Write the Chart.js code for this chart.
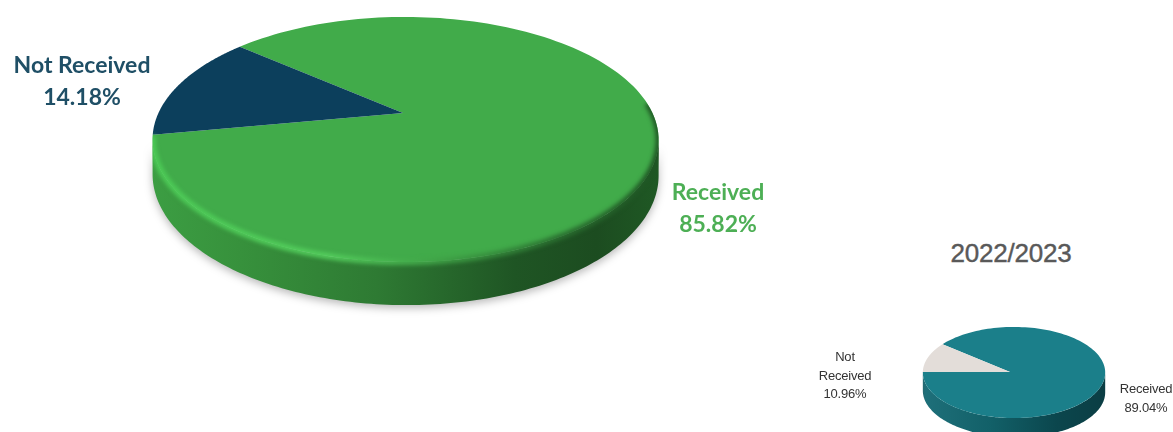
<!DOCTYPE html>
<html>
<head>
<meta charset="utf-8">
<title>Received vs Not Received</title>
<script src="https://cdn.jsdelivr.net/npm/chart.js@4"></script>
<style>
  html, body { margin: 0; padding: 0; background: #fff; width: 1173px; height: 432px; overflow: hidden; }
  canvas { position: absolute; }
  .lbl { position: absolute; transform: translateX(-50%); text-align: center; white-space: nowrap; }
  .big { font: bold 23px/32px Lato, sans-serif; }
  .small { font: 13px/18.5px "Liberation Sans", sans-serif; color: #333; letter-spacing: -0.2px; }
  .year { font: 26px "Liberation Sans", sans-serif; color: #595959; letter-spacing: -0.2px; -webkit-text-stroke: 0.4px #595959; }
</style>
</head>
<body>
<div style="position:absolute;left:0;top:-134px;width:806px;height:494px"><canvas id="mainPie"></canvas></div>
<div style="position:absolute;left:847px;top:281px;width:326px;height:182px"><canvas id="priorPie"></canvas></div>

<script>
// ============================
// DATA
// ============================
const categories = ["Received", "Not Received"];
const mainShares = [85.82, 14.18];
const priorShares = [89.04, 10.96];
const priorYear = "2022/2023";

// ============================
// TILTED PIE PLUGIN
// ============================
// Takes the slice angles the doughnut controller computed and projects them
// onto a disc seen in perspective, with a rim below it.
const tiltedPie = {
  id: "tiltedPie",
  beforeDatasetDraw(chart, args, opts) {
    const ctx = chart.ctx;
    const arcs = chart.getDatasetMeta(0).data;
    const cx = arcs[0].x;
    const cy = arcs[0].y;
    const R = arcs[0].outerRadius;

    // point on the disc edge for canvas angle t, pushed down by "drop"
    const edge = (t, drop) => {
      const w = 1 - opts.persp * Math.sin(t) - opts.yaw * Math.cos(t);
      return [
        cx + (R * Math.cos(t)) / w,
        cy + (R * opts.tilt * Math.sin(t)) / w + (drop || 0) / w,
      ];
    };
    const trace = (from, to, drop) => {
      const steps = 160;
      for (let i = 0; i <= steps; i++) {
        const p = edge(from + ((to - from) * i) / steps, drop);
        ctx.lineTo(p[0], p[1]);
      }
    };
    const hGradient = (stops) => {
      const g = ctx.createLinearGradient(cx - R * 1.03, 0, cx + R * 1.03, 0);
      stops.forEach((s) => g.addColorStop(s[0], s[1]));
      return g;
    };

    // visible part of the rim runs between the two widest points
    const side = Math.asin(opts.persp);
    const rimFrom = side;
    const rimTo = Math.PI - side;
    const rimPath = () => {
      trace(rimFrom, rimTo, 0);
      trace(rimTo, rimFrom, opts.depth);
      ctx.closePath();
    };

    ctx.save();
    ctx.shadowColor = "rgba(0,0,0,0.28)";
    ctx.shadowBlur = opts.shadow;
    ctx.shadowOffsetY = opts.shadow / 3;
    ctx.fillStyle = hGradient(opts.rimStops);
    ctx.beginPath();
    rimPath();
    ctx.fill();
    ctx.restore();

    arcs.forEach((arc) => {
      ctx.beginPath();
      ctx.moveTo(cx, cy);
      trace(arc.startAngle, arc.endAngle, 0);
      ctx.closePath();
      ctx.fillStyle = arc.options.backgroundColor;
      ctx.fill();
    });

    // soft bevel along the front of the disc, kept inside the silhouette
    if (opts.bevelStops) {
      ctx.save();
      ctx.beginPath();
      trace(0, Math.PI * 2, 0);
      ctx.closePath();
      const start = edge(rimFrom, 0);
      ctx.moveTo(start[0], start[1]);
      rimPath();
      ctx.clip();
      ctx.filter = "blur(" + opts.bevelBlur + "px)";
      ctx.strokeStyle = hGradient(opts.bevelStops);
      ctx.lineWidth = opts.bevelWidth;
      ctx.beginPath();
      trace(rimFrom - 0.3, rimTo + 0.03, 0);
      ctx.stroke();
      ctx.restore();
    }
    return false;
  },
};

// ============================
// CHART BUILDER
// ============================
function buildPie(id, shares, colors, rotation, pieOptions) {
  return new Chart(document.getElementById(id), {
    type: "pie",
    data: {
      labels: categories,
      datasets: [{ data: shares, backgroundColor: colors, borderWidth: 0 }],
    },
    options: {
      responsive: true,
      maintainAspectRatio: false,
      animation: false,
      rotation: rotation,
      layout: { padding: 0 },
      plugins: {
        legend: { display: false },
        tooltip: { enabled: false },
        tiltedPie: pieOptions,
      },
    },
    plugins: [tiltedPie],
  });
}

buildPie("mainPie", mainShares, ["#41AB4A", "#0C3F5C"], 310.6, {
  tilt: 0.473,
  persp: 0.2163,
  yaw: 0.01,
  depth: 33.7,
  shadow: 9,
  rimStops: [
    [0, "#3C9E43"],
    [0.18, "#37913C"],
    [0.45, "#2E7A33"],
    [0.72, "#1F5524"],
    [0.88, "#1C4C20"],
    [1, "#1F5824"],
  ],
  bevelStops: [
    [0, "#4CCB56"],
    [0.35, "#54CE5D"],
    [0.58, "#3E9F45"],
    [0.8, "#2A6F30"],
    [1, "#1F5524"],
  ],
  bevelWidth: 6,
  bevelBlur: 2.2,
});

buildPie("priorPie", priorShares, ["#1B7F8A", "#E3DDD9"], 309.5, {
  tilt: 0.5,
  persp: 0.011,
  yaw: 0.044,
  depth: 19,
  shadow: 0,
  rimStops: [
    [0, "#3A575B"],
    [0.05, "#1E6F79"],
    [0.4, "#126068"],
    [0.75, "#0B464D"],
    [1, "#0B3E44"],
  ],
});

// ============================
// TEXT LABELS
// ============================
function addLabel(cls, lines, x, y, color) {
  const el = document.createElement("div");
  el.className = "lbl " + cls;
  el.style.left = x + "px";
  el.style.top = y + "px";
  if (color) el.style.color = color;
  lines.forEach((line) => {
    const row = document.createElement("div");
    row.textContent = line;
    el.appendChild(row);
  });
  document.body.appendChild(el);
}

const pct = (v) => v.toFixed(2) + "%";

addLabel("big", [categories[1], pct(mainShares[1])], 82, 48, "#1F4F66");
addLabel("big", [categories[0], pct(mainShares[0])], 718, 175, "#4DAF55");
addLabel("year", [priorYear], 1011, 238);
addLabel("small", ["Not", "Received", pct(priorShares[1])], 845, 348);
addLabel("small", [categories[0], pct(priorShares[0])], 1146, 380);
</script>
</body>
</html>
